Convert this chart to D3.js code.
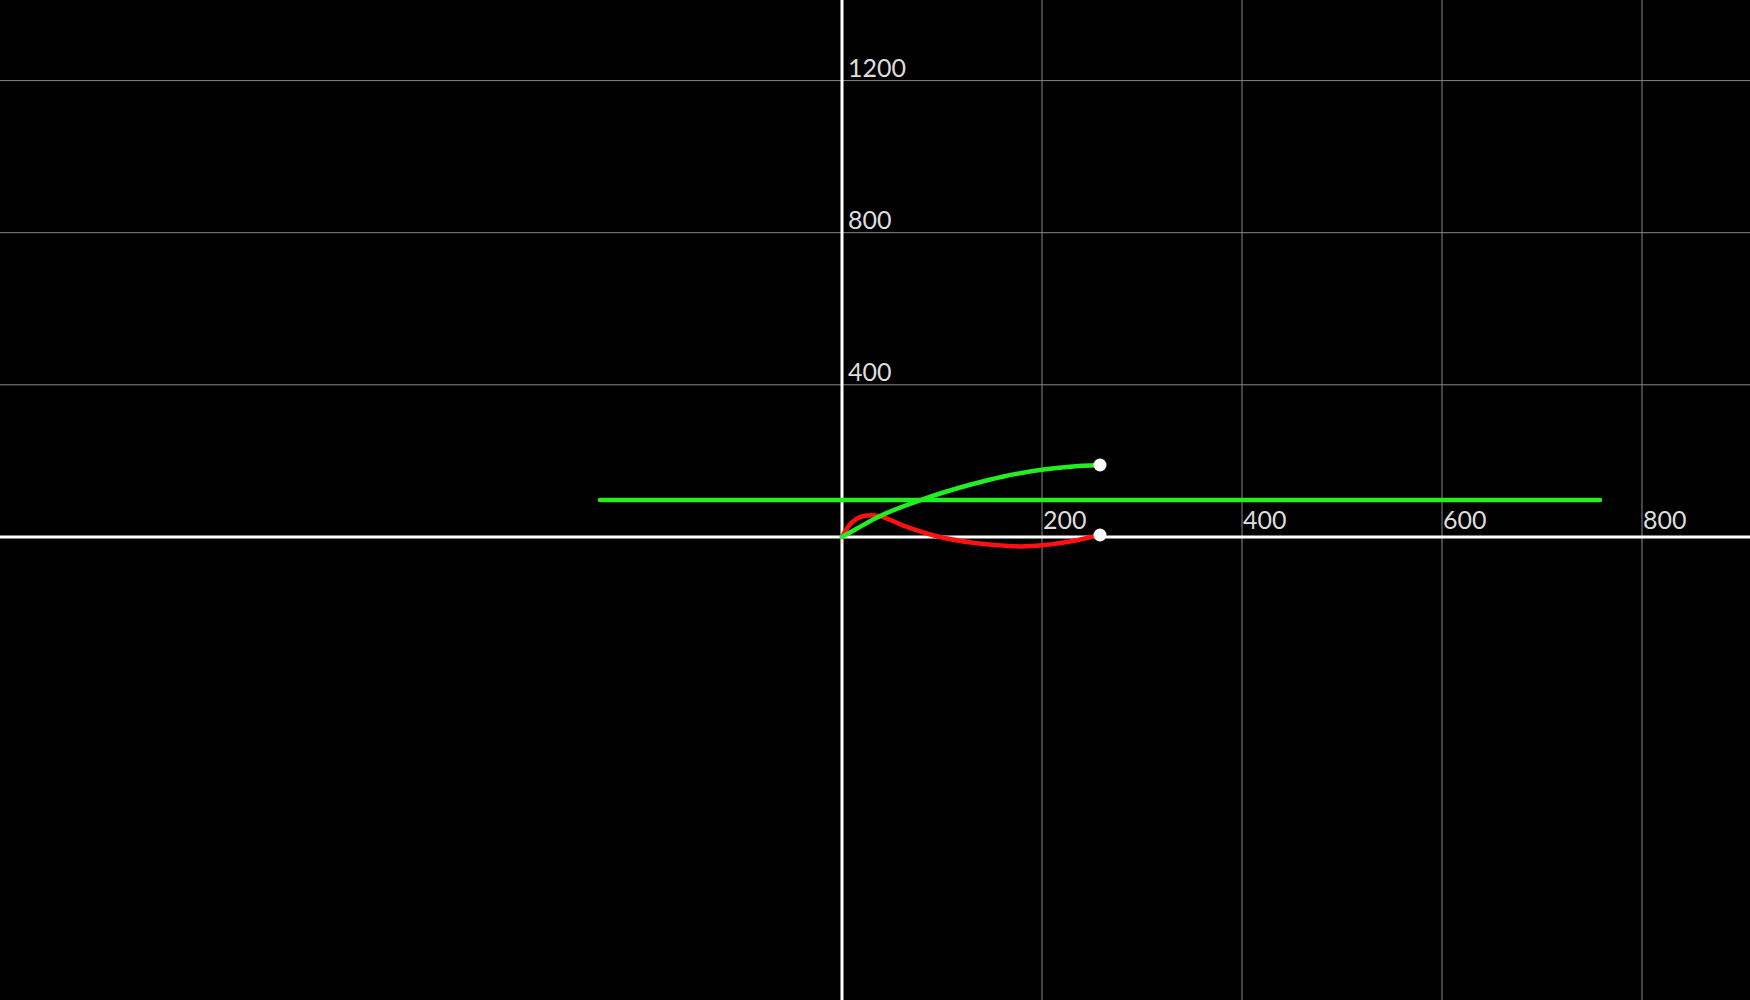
<!DOCTYPE html>
<html>
<head>
<meta charset="utf-8">
<script src="https://cdn.jsdelivr.net/npm/d3@7"></script>
<style>
  html, body { margin: 0; padding: 0; background: #000; }
  svg { display: block; }
  .tick-label { font-family: Lato, sans-serif; font-size: 25px; fill: #ddd; }
</style>
</head>
<body>
<svg id="chart" width="1750" height="1000"></svg>
<script>
// tick values (only positive side gets grid + label)
const xTicks = [200, 400, 600, 800];
const yTicks = [400, 800, 1200];

// green trajectory
const greenPath = [
    [0, 0], [15, 22], [36.6, 53], [80, 98], [128, 137],
    [161.6, 159], [201.6, 177], [228, 184.5], [258, 189]
];

// red trajectory
const redPath = [
    [0, 0], [5, 22], [10, 38], [18, 52], [28, 57], [37, 55],
    [60, 31], [93, 3], [133, -16], [162, -23], [180, -25],
    [200, -22], [228, -12], [258, 5]
];

// horizontal green reference line
const refLine = [[-242, 97], [758, 97]];

const width = 1750;
const height = 1000;

const svg = d3.select('#chart');

// 1 unit = 1px on x, ~0.38px on y
const x = d3.scaleLinear().domain([-842, 908]).range([0, width]);
const y = d3.scaleLinear().domain([-1218, 1412]).range([height, 0]);

svg.append('rect')
    .attr('width', width)
    .attr('height', height)
    .attr('fill', '#000');

// grid
svg.selectAll('.vgrid')
    .data(xTicks)
    .enter()
    .append('line')
    .attr('x1', d => x(d))
    .attr('x2', d => x(d))
    .attr('y1', 0)
    .attr('y2', height)
    .attr('stroke', '#888')
    .attr('stroke-width', 1);

svg.selectAll('.hgrid')
    .data(yTicks)
    .enter()
    .append('line')
    .attr('x1', 0)
    .attr('x2', width)
    .attr('y1', d => y(d))
    .attr('y2', d => y(d))
    .attr('stroke', '#888')
    .attr('stroke-width', 1);

// axes
svg.append('line')
    .attr('x1', 0).attr('x2', width)
    .attr('y1', y(0)).attr('y2', y(0))
    .attr('stroke', '#fff')
    .attr('stroke-width', 3);

svg.append('line')
    .attr('x1', x(0)).attr('x2', x(0))
    .attr('y1', 0).attr('y2', height)
    .attr('stroke', '#fff')
    .attr('stroke-width', 3);

// tick labels
svg.selectAll('.xlabel')
    .data(xTicks)
    .enter()
    .append('text')
    .attr('class', 'tick-label')
    .attr('x', d => x(d) + 1)
    .attr('y', y(0) - 8)
    .text(d => d);

svg.selectAll('.ylabel')
    .data(yTicks)
    .enter()
    .append('text')
    .attr('class', 'tick-label')
    .attr('x', x(0) + 6)
    .attr('y', d => y(d) - 3.5)
    .text(d => d);

const line = d3.line()
    .x(d => x(d[0]))
    .y(d => y(d[1]));

svg.append('path')
    .datum(refLine)
    .attr('d', line)
    .attr('fill', 'none')
    .attr('stroke', '#22ee22')
    .attr('stroke-width', 4.5)
    .attr('stroke-linecap', 'round');

const curve = d3.line()
    .x(d => x(d[0]))
    .y(d => y(d[1]))
    .curve(d3.curveMonotoneX);

svg.append('path')
    .datum(redPath)
    .attr('d', curve)
    .attr('fill', 'none')
    .attr('stroke', '#ff1111')
    .attr('stroke-width', 4.5)
    .attr('stroke-linecap', 'round');

svg.append('path')
    .datum(greenPath)
    .attr('d', curve)
    .attr('fill', 'none')
    .attr('stroke', '#22ee22')
    .attr('stroke-width', 4.5)
    .attr('stroke-linecap', 'round');

// end markers
const ends = [greenPath[greenPath.length - 1], redPath[redPath.length - 1]];
svg.selectAll('.end')
    .data(ends)
    .enter()
    .append('circle')
    .attr('cx', d => x(d[0]))
    .attr('cy', d => y(d[1]))
    .attr('r', 6.5)
    .attr('fill', '#fff');
</script>
</body>
</html>
